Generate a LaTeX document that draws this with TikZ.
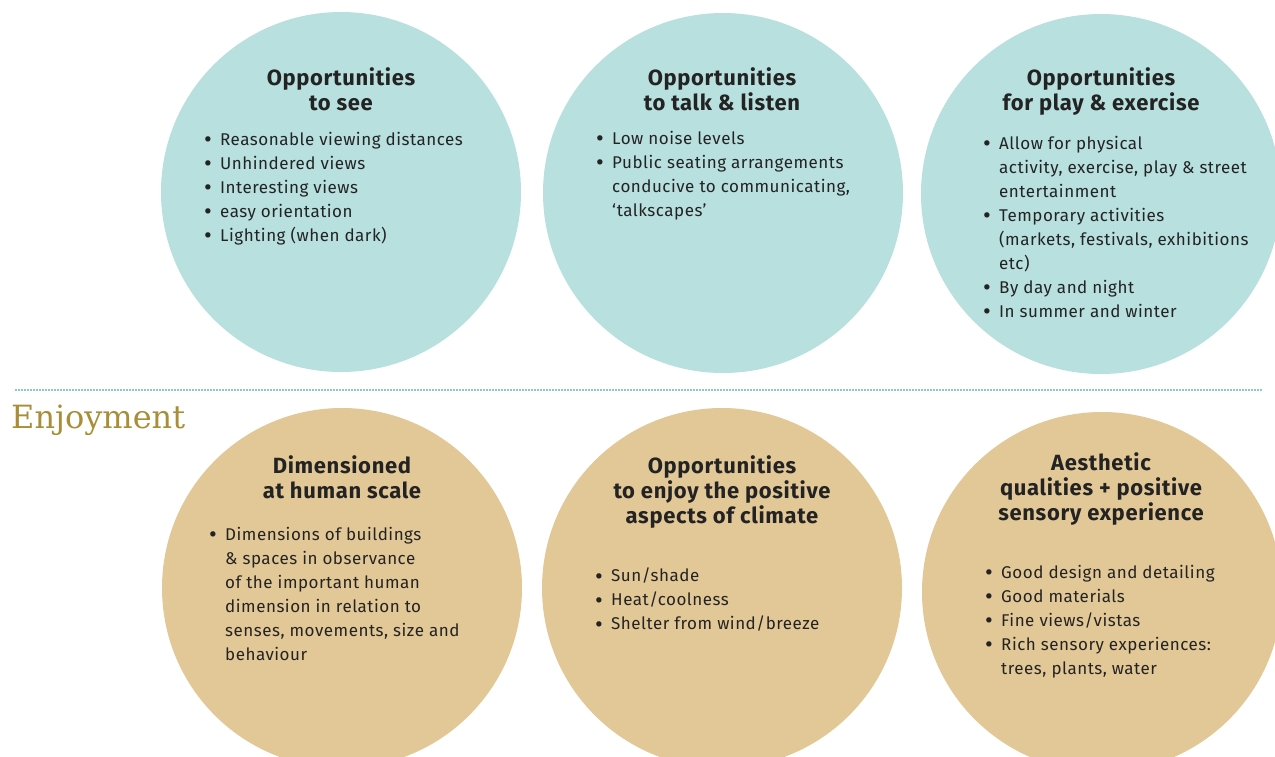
\documentclass[tikz,border=0pt]{standalone}
\usepackage{fontspec}
\setmainfont{Fira Sans}[LetterSpace=3]
\newfontfamily\slabfont{DejaVu Serif}
\definecolor{SeeTeal}{RGB}{183,224,222}
\definecolor{JoyTan}{RGB}{226,200,150}
\definecolor{JoyGold}{RGB}{168,142,55}
\definecolor{DotTeal}{RGB}{140,200,205}
\definecolor{InkGrey}{RGB}{35,35,35}
\usetikzlibrary{positioning}
\newcommand{\bl}{\makebox[16pt][l]{\raisebox{-2.2pt}{\scalebox{1.4}{\textbullet}}}}
\newcommand{\ind}{\hspace*{16pt}}

\begin{document}
\begin{tikzpicture}[x=1pt,y=-1pt,
    bubble/.style={circle,draw=none,minimum size=360pt,inner sep=0pt},
    head/.style={font=\fontsize{22}{25}\selectfont\bfseries,align=center,
                 anchor=north,inner sep=0pt,text=InkGrey},
    items/.style={font=\fontsize{17}{24}\selectfont,align=left,
                  anchor=north west,inner sep=0pt,text=InkGrey}]
    \useasboundingbox (0,0) rectangle (1275,756);
    % top row
    \node[bubble,fill=SeeTeal] (see)  at (341,192)  {};
    \node[bubble,fill=SeeTeal] (talk) at (723,193)  {};
    \node[bubble,fill=SeeTeal] (play) at (1101,194) {};
    % bottom row
    \node[bubble,fill=JoyTan] (scale)   at (342,588)  {};
    \node[bubble,fill=JoyTan] (climate) at (722,588)  {};
    \node[bubble,fill=JoyTan] (sense)   at (1102,592) {};
    % divider
    \coordinate (dotL) at (15,390);
    \coordinate (dotR) at (1262,390);
    \draw[DotTeal,line width=1.2pt,dash pattern=on 1.5pt off 1.5pt] (dotL)--(dotR);
    \node[font=\slabfont\fontsize{32}{32}\selectfont,text=JoyGold,
          anchor=base west,inner sep=0pt] (joy) at (11,428) {Enjoyment};
    % titles
    \node[head] (seeT)     at (341,67)  {Opportunities\\to see};
    \node[head] (talkT)    at (722,67)  {Opportunities\\to talk \& listen};
    \node[head] (playT)    at (1101,67) {Opportunities\\for play \& exercise};
    \node[head] (scaleT)   at (342,455) {Dimensioned\\at human scale};
    \node[head] (climateT) at (722,455) {Opportunities\\to enjoy the positive\\aspects of climate};
    \node[head] (senseT)   at (1101,452) {Aesthetic\\qualities + positive\\sensory experience};
    % bullet lists
    \node[items] (seeL) at (204,132) {\bl Reasonable viewing distances\\
        \bl Unhindered views\\ \bl Interesting views\\ \bl easy orientation\\
        \bl Lighting (when dark)};
    \node[items] (talkL) at (596,131) {\bl Low noise levels\\
        \bl Public seating arrangements\\ \ind conducive to communicating,\\
        \ind `talkscapes'};
    \node[items] (playL) at (983,136) {\bl Allow for physical\\
        \ind activity, exercise, play \& street\\ \ind entertainment\\
        \bl Temporary activities\\ \ind (markets, festivals, exhibitions\\
        \ind etc)\\ \bl By day and night\\ \bl In summer and winter};
    \node[items] (scaleL) at (209,527) {\bl Dimensions of buildings\\
        \ind \& spaces in observance\\ \ind of the important human\\
        \ind dimension in relation to\\ \ind senses, movements, size and\\
        \ind behaviour};
    \node[items] (climateL) at (595,568) {\bl Sun/shade\\ \bl Heat/coolness\\
        \bl Shelter from wind/breeze};
    \node[items] (senseL) at (985,565) {\bl Good design and detailing\\
        \bl Good materials\\ \bl Fine views/vistas\\
        \bl Rich sensory experiences:\\ \ind trees, plants, water};
\end{tikzpicture}
\end{document}
